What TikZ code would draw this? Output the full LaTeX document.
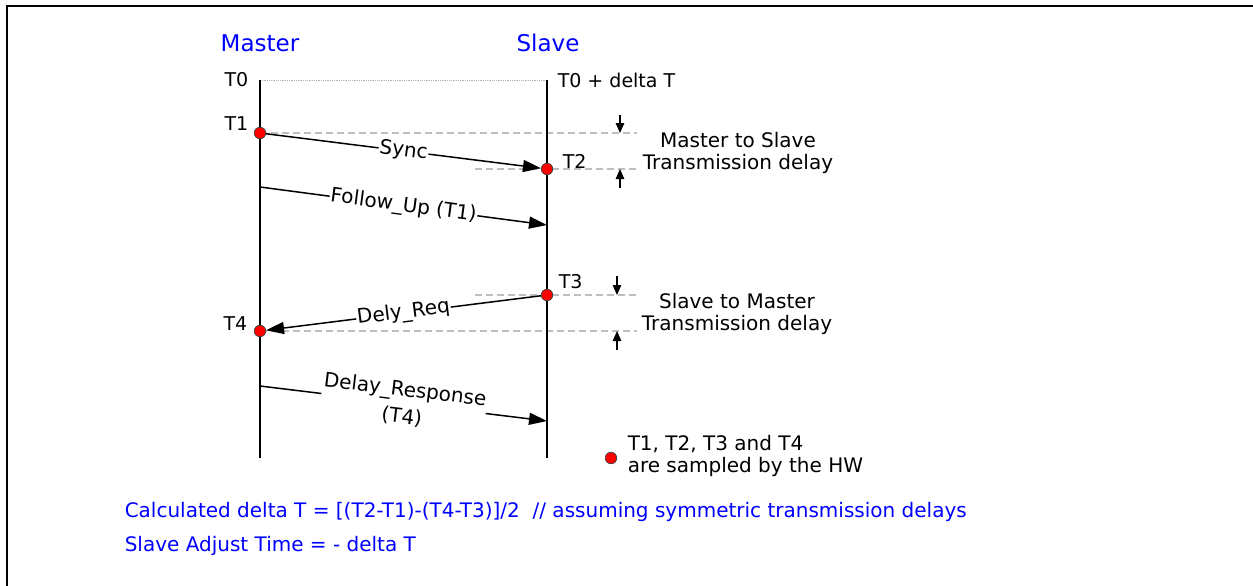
\documentclass[tikz,border=0pt]{standalone}
\usepackage{fontspec}
\setmainfont{DejaVu Sans}
\usetikzlibrary{arrows.meta}
\begin{document}
\begin{tikzpicture}[x=1pt, y=-1pt, line width=1.5pt,
  lbl/.style={inner sep=0pt, align=center, font=\fontsize{20}{22}\selectfont},
  tlbl/.style={inner sep=0pt, font=\fontsize{19}{21}\selectfont},
  head/.style={inner sep=0pt, text=blue, font=\fontsize{23}{26}\selectfont},
  note/.style={inner sep=0pt, anchor=west, text=blue, font=\fontsize{20}{24}\selectfont},
  stamp/.style={circle, draw=black!75, line width=0.7pt, fill=red, minimum size=11.5pt, inner sep=0pt},
  msg/.style={-{Triangle[length=18pt, width=12pt]}},
  msglbl/.style={midway, sloped, fill=white, inner sep=1pt, align=center, font=\fontsize{20}{24}\selectfont},
  delay/.style={black!25, line width=2.4pt, dash pattern=on 7pt off 4pt},
  dmark/.style={line width=1.4pt, -{Triangle[length=10pt, width=8.5pt]}}]
  \useasboundingbox (0,0) rectangle (1253,586);
  \draw[line width=2pt] (7,586) -- (7,6) -- (1253,6);

  % lifelines
  \coordinate (m-top) at (260,80);
  \coordinate (m-bot) at (260,458);
  \coordinate (s-top) at (547,80);
  \coordinate (s-bot) at (547,458);
  \node[head] (master) at (260,43) {Master};
  \node[head] (slave) at (548,43) {Slave};

  % delay guide lines
  \coordinate (d1) at (637,133);
  \coordinate (d2a) at (475,169);
  \coordinate (d2b) at (637,169);
  \coordinate (d3a) at (475,295);
  \coordinate (d3b) at (637,295);
  \coordinate (d4) at (637,331);
  \draw[delay] (260,133) -- (d1);
  \draw[delay] (d2a) -- (d2b);
  \draw[delay] (d3a) -- (d3b);
  \draw[delay] (260,331) -- (d4);
  \draw[black!30, line width=0.8pt, densely dotted] (m-top) -- (s-top);

  \draw (m-top) -- (m-bot);
  \draw (s-top) -- (s-bot);

  \node[tlbl, anchor=east] (t0) at (249,80) {T0};
  \node[tlbl, anchor=west] (t0s) at (557,80) {T0 + delta T};

  \node[stamp] (t1) at (260,133) {};
  \node[stamp] (t2) at (547,169) {};
  \node[stamp] (t3) at (547,295) {};
  \node[stamp] (t4) at (260,331) {};
  \node[tlbl, anchor=east] (t1l) at (249,124) {T1};
  \node[tlbl, anchor=west] (t2l) at (562,161) {T2};
  \node[tlbl, anchor=west] (t3l) at (558,282) {T3};
  \node[tlbl, anchor=east] (t4l) at (248,324) {T4};

  % messages
  \coordinate (fu-s) at (260,187);
  \coordinate (fu-e) at (547,225);
  \coordinate (dr-s) at (260,386);
  \coordinate (dr-e) at (547,421);
  \draw[msg] (t1) -- (t2) node[msglbl] {Sync};
  \draw[msg] (fu-s) -- (fu-e) node[msglbl] {Follow\_Up (T1)};
  \draw[msg] (t3) -- (t4) node[msglbl] {Dely\_Req};
  \draw[msg] (dr-s) -- (dr-e) node[msglbl] {Delay\_Response\\[3pt](T4)};

  % delay markers
  \draw[dmark] (620,115) -- (620,133);
  \draw[dmark] (620,188) -- (620,169);
  \draw[dmark] (617,276) -- (617,295);
  \draw[dmark] (617,350) -- (617,331);
  \node[lbl] (ms) at (738,153) {Master to Slave\\Transmission delay};
  \node[lbl] (sm) at (737,314) {Slave to Master\\Transmission delay};

  % legend
  \node[stamp] (key) at (611,458) {};
  \node[lbl, anchor=west, align=left] (keytext) at (627,456) {T1, T2, T3 and T4\\are sampled by the HW};

  \node[note] (calc) at (124,512) {Calculated delta T = [(T2-T1)-(T4-T3)]/2 \ // assuming symmetric transmission delays};
  \node[note] (adj) at (124,546) {Slave Adjust Time = - delta T};
\end{tikzpicture}
\end{document}
